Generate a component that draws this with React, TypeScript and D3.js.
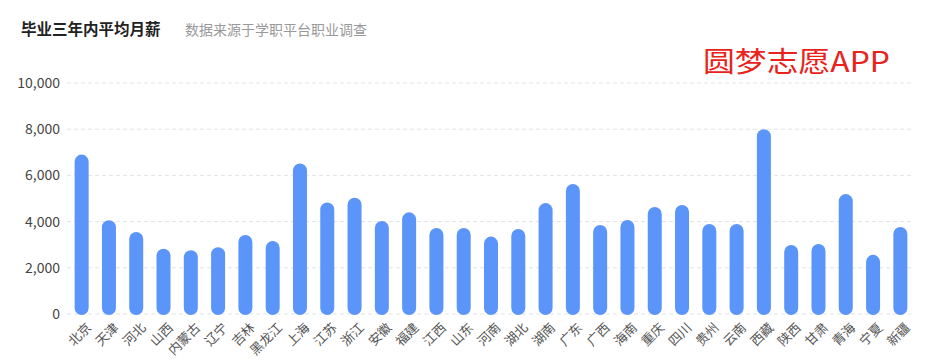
import React, { useEffect, useRef } from "react";
import * as d3 from "d3";

const provinces = [
  "北京", "天津", "河北", "山西", "内蒙古", "辽宁", "吉林", "黑龙江", "上海", "江苏", "浙江",
  "安徽", "福建", "江西", "山东", "河南", "湖北", "湖南", "广东", "广西", "海南", "重庆",
  "四川", "贵州", "云南", "西藏", "陕西", "甘肃", "青海", "宁夏", "新疆",
];
const salaries = [
  6900, 4060, 3550, 2830, 2760, 2890, 3420, 3160, 6520, 4830, 5030,
  4030, 4400, 3720, 3720, 3350, 3680, 4800, 5630, 3850, 4070, 4630,
  4720, 3900, 3900, 8000, 2990, 3030, 5190, 2560, 3770,
];
const yTicks = [0, 2000, 4000, 6000, 8000, 10000];

const App: React.FC = () => {
  const svgRef = useRef<SVGSVGElement | null>(null);
  const width = 938;
  const height = 364;
  const left = 68;
  const right = 914;
  const top = 83;
  const bottom = 314;
  const font = "'Noto Sans CJK SC', 'Noto Sans', sans-serif";

  useEffect(() => {
    const svg = d3.select(svgRef.current);
    svg.selectAll("*").remove();
    svg.attr("width", width).attr("height", height).style("font-family", font);

    const x = d3.scaleBand().domain(provinces).range([left, right]).padding(0);
    const y = d3.scaleLinear().domain([0, 10000]).range([bottom, top]);

    // grid lines
    svg
      .append("g")
      .selectAll("line")
      .data(yTicks)
      .enter()
      .append("line")
      .attr("x1", left - 1)
      .attr("x2", right - 1)
      .attr("y1", d => y(d))
      .attr("y2", d => y(d))
      .attr("stroke", "#e3e3e3")
      .attr("stroke-dasharray", "4,3");

    // y labels
    svg
      .append("g")
      .selectAll("text")
      .data(yTicks)
      .enter()
      .append("text")
      .attr("x", 60)
      .attr("y", d => y(d))
      .attr("dy", "0.35em")
      .attr("text-anchor", "end")
      .attr("font-size", 14)
      .attr("fill", "#444")
      .text(d => d3.format(",")(d));

    // bars
    const barW = 14;
    svg
      .append("g")
      .selectAll("rect")
      .data(salaries)
      .enter()
      .append("rect")
      .attr("x", (d, i) => (x(provinces[i]) as number) + x.bandwidth() / 2 - barW / 2)
      .attr("y", d => y(d))
      .attr("width", barW)
      .attr("height", d => y(0) - y(d) + 1)
      .attr("rx", barW / 2)
      .attr("fill", "#5b95f9");

    // x labels
    svg
      .append("g")
      .selectAll("text")
      .data(provinces)
      .enter()
      .append("text")
      .attr(
        "transform",
        d => `translate(${(x(d) as number) + x.bandwidth() / 2 + 4}, ${bottom + 8}) rotate(-45)`
      )
      .attr("dy", "0.7em")
      .attr("text-anchor", "end")
      .attr("font-size", 13)
      .attr("fill", "#555")
      .text(d => d);

    // title
    svg
      .append("text")
      .attr("x", 21)
      .attr("y", 35)
      .attr("font-size", 15.5)
      .attr("font-weight", "bold")
      .attr("fill", "#222")
      .text("毕业三年内平均月薪");

    svg
      .append("text")
      .attr("x", 185)
      .attr("y", 35)
      .attr("font-size", 14)
      .attr("fill", "#999")
      .text("数据来源于学职平台职业调查");

    svg
      .append("text")
      .attr("x", 703)
      .attr("y", 72)
      .attr("font-size", 28)
      .attr("textLength", 187)
      .attr("lengthAdjust", "spacingAndGlyphs")
      .attr("fill", "#e8231b")
      .text("圆梦志愿APP");
  }, []);

  return (
    <div style={{ position: "absolute", left: 0, top: 0 }}>
      <svg ref={svgRef} style={{ display: "block" }}></svg>
    </div>
  );
};

export default App;
